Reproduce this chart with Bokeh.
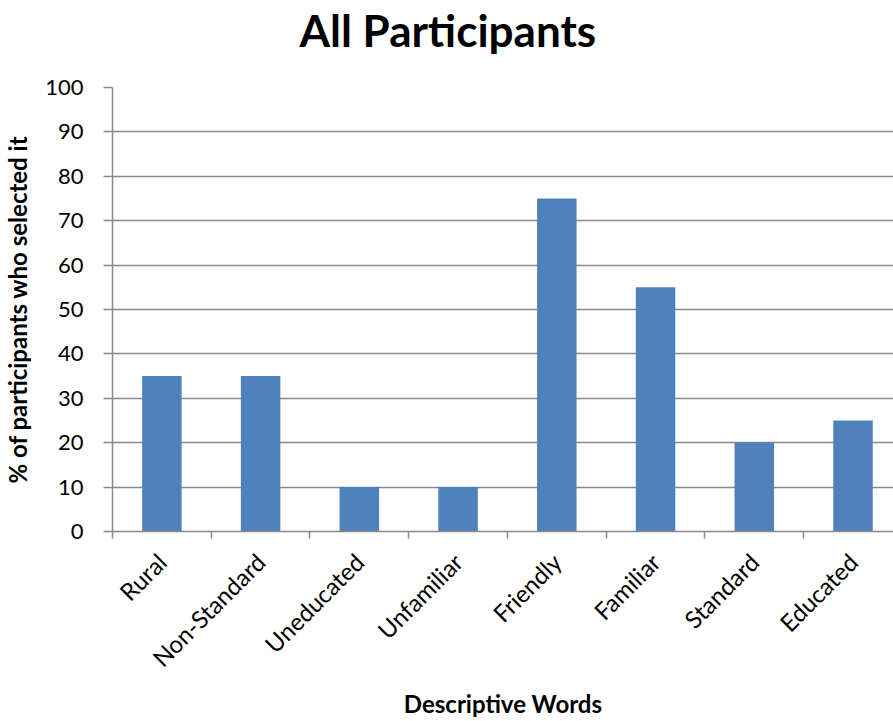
import math
from bokeh.plotting import figure
from bokeh.models import Range1d, FixedTicker, ColumnDataSource, Title
from bokeh.embed import file_html
from bokeh.resources import INLINE

# Share of participants choosing each descriptive word
categories = ["Rural", "Non-Standard", "Uneducated", "Unfamiliar",
              "Friendly", "Familiar", "Standard", "Educated"]
percent = [35, 35, 10, 10, 75, 55, 20, 25]
y_ticks = list(range(0, 101, 10))

FONT = "Lato"
GREY = "#898989"
BLACK = "#000000"

centers = [i + 0.5 for i in range(len(categories))]
source = ColumnDataSource(dict(x=centers, top=percent))

p = figure(title=None, width=893, height=721, output_backend="svg", toolbar_location=None,
           x_range=Range1d(0, 7.91), y_range=Range1d(0, 100),
           min_border_left=110, min_border_right=0,
           min_border_top=87, min_border_bottom=190)
p.outline_line_color = None

# blank gap between the plot frame and the heading, then the heading itself
p.add_layout(Title(text=" ", text_font_size="10px", standoff=17), "above")
p.add_layout(Title(text="All Participants", align="left", offset=187,
                   vertical_align="top", standoff=0,
                   text_font=FONT, text_font_size="44px", text_font_style="bold",
                   text_color=BLACK), "above")

p.vbar(x="x", top="top", width=0.4, source=source,
       fill_color="#4F81BD", line_color=None)

# x axis: labels centred on each category, small ticks on category boundaries
xa = p.xaxis[0]
xa.ticker = FixedTicker(ticks=centers, minor_ticks=list(range(len(categories) + 1)))
xa.major_label_overrides = {c: lab for c, lab in zip(centers, categories)}
xa.major_label_orientation = math.pi / 4
xa.major_tick_line_color = None
xa.minor_tick_line_color = GREY
xa.minor_tick_out = 7
xa.minor_tick_in = 0
xa.axis_line_color = GREY
xa.axis_line_width = 1.5
xa.minor_tick_line_width = 1.5
xa.major_label_text_font = FONT
xa.major_label_text_font_size = "24px"
xa.major_label_text_color = BLACK
xa.major_label_standoff = 19
xa.axis_label = "Descriptive Words"
xa.axis_label_text_font = FONT
xa.axis_label_text_font_size = "24px"
xa.axis_label_text_font_style = "bold"
xa.axis_label_text_color = BLACK
xa.axis_label_standoff = 4

ya = p.yaxis[0]
ya.ticker = FixedTicker(ticks=y_ticks)
ya.minor_tick_line_color = None
ya.major_tick_out = 9
ya.major_tick_in = 0
ya.major_tick_line_color = GREY
ya.major_tick_line_width = 1.5
ya.axis_line_color = GREY
ya.axis_line_width = 1.5
ya.major_label_text_font = FONT
ya.major_label_text_font_size = "22px"
ya.major_label_text_color = BLACK
ya.major_label_standoff = 20
ya.axis_label = "% of participants who selected it"
ya.axis_label_text_font = FONT
ya.axis_label_text_font_size = "24px"
ya.axis_label_text_font_style = "bold"
ya.axis_label_text_color = BLACK
ya.axis_label_standoff = 10

p.xgrid.grid_line_color = None
p.ygrid.grid_line_color = GREY
p.ygrid.grid_line_width = 1.5

open("out.html", "w").write(file_html(p, INLINE))
